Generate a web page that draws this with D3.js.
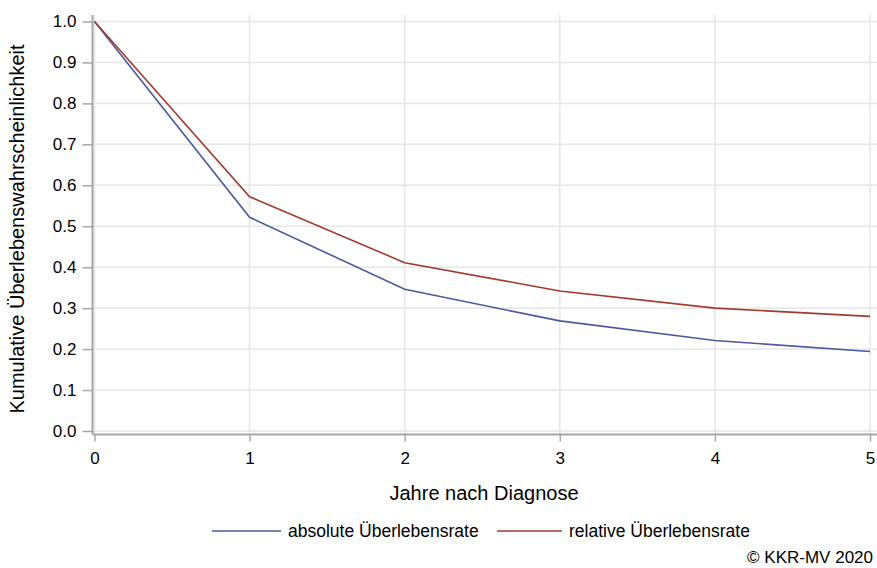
<!DOCTYPE html>
<html>
<head>
<meta charset="utf-8">
<script src="https://cdn.jsdelivr.net/npm/d3@7"></script>
<style>
  html, body { margin: 0; padding: 0; background: #fff; }
  svg { display: block; font-family: "Liberation Sans", Arial, sans-serif; }
</style>
</head>
<body>
<svg id="chart" width="877" height="568"></svg>
<script>
// ---- data ----
const years = [0, 1, 2, 3, 4, 5];
const absoluteRate = [1.0, 0.522, 0.346, 0.269, 0.221, 0.194];
const relativeRate = [1.0, 0.572, 0.411, 0.342, 0.300, 0.280];
const seriesNames = ["absolute Überlebensrate", "relative Überlebensrate"];
const yTicks = [0, 0.1, 0.2, 0.3, 0.4, 0.5, 0.6, 0.7, 0.8, 0.9, 1.0];
const xTicks = [0, 1, 2, 3, 4, 5];
const xTitle = "Jahre nach Diagnose";
const yTitle = "Kumulative Überlebenswahrscheinlichkeit";
const credit = "© KKR-MV 2020";

const colors = ["#4a5a9c", "#A23A2E"];
const svg = d3.select("#chart");

const x = d3.scaleLinear().domain([0, 5]).range([94.5, 870]);
const y = d3.scaleLinear().domain([0, 1]).range([431, 21.5]);

const axisLeftX = 92.5, axisBottomY = 434.5, plotTop = 15, plotRight = 877;
const axisColor = "#a3a6aa", gridColor = "#e6e6e6";

// grid
svg.append("g").selectAll("line").data(yTicks).join("line")
  .attr("x1", axisLeftX).attr("x2", plotRight)
  .attr("y1", d => y(d)).attr("y2", d => y(d))
  .attr("stroke", gridColor).attr("stroke-width", 1.5);
svg.append("g").selectAll("line").data(xTicks).join("line")
  .attr("x1", d => x(d)).attr("x2", d => x(d))
  .attr("y1", plotTop).attr("y2", axisBottomY)
  .attr("stroke", gridColor).attr("stroke-width", 1.5);

// y axis
const yAxis = d3.axisLeft(y).tickValues(yTicks).tickFormat(d3.format(".1f"))
  .tickSize(10).tickPadding(6);
const gy = svg.append("g").attr("transform", `translate(${axisLeftX},0)`).call(yAxis);
gy.select(".domain").remove();
gy.selectAll(".tick line").attr("stroke", axisColor).attr("stroke-width", 1.5);
gy.selectAll(".tick text").attr("fill", "#000").style("font-size", "17px")
  .style("font-family", "'Liberation Sans', Arial, sans-serif");
svg.append("line").attr("x1", axisLeftX).attr("x2", axisLeftX)
  .attr("y1", plotTop).attr("y2", axisBottomY)
  .attr("stroke", axisColor).attr("stroke-width", 2);

// x axis
const xAxis = d3.axisBottom(x).tickValues(xTicks).tickFormat(d3.format("d"))
  .tickSize(7).tickPadding(10);
const gx = svg.append("g").attr("transform", `translate(0,${axisBottomY})`).call(xAxis);
gx.select(".domain").remove();
gx.selectAll(".tick line").attr("stroke", axisColor).attr("stroke-width", 1.5);
gx.selectAll(".tick text").attr("fill", "#000").style("font-size", "17px")
  .style("font-family", "'Liberation Sans', Arial, sans-serif");
svg.append("line").attr("x1", axisLeftX).attr("x2", plotRight)
  .attr("y1", axisBottomY).attr("y2", axisBottomY)
  .attr("stroke", axisColor).attr("stroke-width", 2);

// lines
const line = d3.line().x((d, i) => x(years[i])).y(d => y(d));
[absoluteRate, relativeRate].forEach((s, k) => {
  svg.append("path").datum(s).attr("d", line)
    .attr("fill", "none").attr("stroke", colors[k]).attr("stroke-width", 1.6);
});

// titles
svg.append("text").attr("x", 484).attr("y", 500).attr("text-anchor", "middle")
  .style("font-size", "20px").attr("fill", "#000").text(xTitle);
svg.append("text").attr("transform", "translate(24,229) rotate(-90)")
  .attr("text-anchor", "middle").style("font-size", "20px").attr("fill", "#000").text(yTitle);

// legend
const legendY = 531;
const legendItems = [{x0: 212, x1: 281, tx: 288}, {x0: 497, x1: 562, tx: 569}];
legendItems.forEach((it, k) => {
  svg.append("line").attr("x1", it.x0).attr("x2", it.x1).attr("y1", legendY).attr("y2", legendY)
    .attr("stroke", colors[k]).attr("stroke-width", 1.6);
  svg.append("text").attr("x", it.tx).attr("y", legendY + 6)
    .style("font-size", "17.5px").attr("fill", "#000").text(seriesNames[k]);
});

// credit
svg.append("text").attr("x", 873).attr("y", 563).attr("text-anchor", "end")
  .style("font-size", "17px").attr("fill", "#000").text(credit);
</script>
</body>
</html>
